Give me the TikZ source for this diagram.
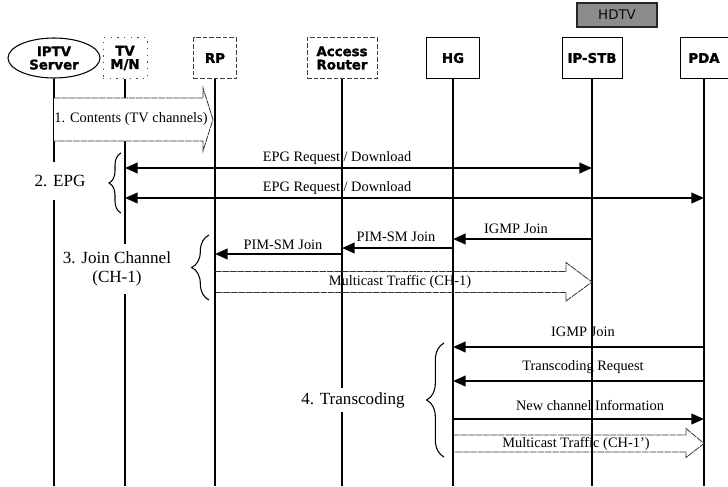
\documentclass[tikz,border=0pt]{standalone}
\usepackage{fontspec}
\setmainfont{Liberation Serif}
\newfontfamily\hdrfont{DejaVu Sans}[BoldFeatures={FakeBold=1.6}]
\newfontfamily\plainsans{DejaVu Sans}
\usetikzlibrary{shapes.geometric,arrows.meta,decorations.pathreplacing,calc}
\definecolor{hdgray}{RGB}{140,140,140}
\definecolor{hdtext}{RGB}{10,10,10}
\begin{document}
\begin{tikzpicture}[x=0.75pt,y=-0.75pt,
  hdr/.style={font=\hdrfont\bfseries\fontsize{10}{10}\selectfont, align=center, inner sep=0pt, minimum height=30.75pt},
  dbox/.style={hdr, draw=black!75, line width=0.5pt, dash pattern=on 3.5pt off 1.5pt},
  tbox/.style={hdr, draw=black!70, line width=0.4pt, dash pattern=on 1pt off 4pt},
  sbox/.style={hdr, draw=black, line width=0.6pt},
  life/.style={line width=1.4pt},
  msg/.style={line width=1.4pt, -{Triangle[length=9.5pt,width=8pt]}},
  msgb/.style={line width=1.4pt, {Triangle[length=9.5pt,width=8pt]}-{Triangle[length=9.5pt,width=8pt]}},
  lbl/.style={font=\fontsize{10.8}{12}\selectfont, inner sep=1pt},
  big/.style={font=\fontsize{12.8}{14.5}\selectfont, align=center, fill=white, inner xsep=2pt},
  hollow/.style={draw=black!80, line width=0.6pt, dash pattern=on 5pt off 0.6pt, line join=miter},
  brc/.style={draw=black, line width=0.8pt, decorate, decoration={brace, amplitude=#1}}
]
\useasboundingbox (0,0) rectangle (728,486);

% headers
\node[hdr, ellipse, draw=black, line width=0.8pt, minimum width=69pt, minimum height=30pt] (iptv) at (54,58) {IPTV\\Server};
\node[tbox, minimum width=33pt] (tv) at (125,58) {TV\\M/N};
\node[dbox, minimum width=32.25pt] (rp) at (215,58) {RP};
\node[dbox, minimum width=52.5pt] (ar) at (342,58) {Access\\Router};
\node[sbox, minimum width=39.75pt] (hg) at (453,58) {HG};
\node[sbox, minimum width=45pt] (stb) at (592,58) {IP-STB};
\node[sbox, minimum width=36pt] (pda) at (704,58) {PDA};
\fill[hdgray, draw=black!85, line width=0.8pt] (577,3) rectangle (657,27);
\node[font=\plainsans\fontsize{10}{10}\selectfont, text=hdtext, inner sep=0pt] (hdtv) at (617,15) {HDTV};

% lifelines
\coordinate (bot) at (0,486);
\foreach \n in {iptv,tv,rp,ar,hg,stb,pda}
  \draw[life] (\n.south) -- (\n |- bot);

% message levels
\coordinate (c1) at (0,119.5);
\coordinate (e1) at (0,168);
\coordinate (e2) at (0,198);
\coordinate (j1) at (0,239);
\coordinate (j2) at (0,248);
\coordinate (j3) at (0,254);
\coordinate (m1) at (0,282);
\coordinate (t1) at (0,347);
\coordinate (t2) at (0,381);
\coordinate (t3) at (0,419);
\coordinate (m2) at (0,443.5);

% 1. Contents
\draw[hollow, fill=white] ($(iptv|-c1)+(0,-21.5)$) -- ($(rp|-c1)+(-12,-21.5)$) -- ($(rp|-c1)+(-12,-31.5)$)
  -- ($(rp|-c1)+(-2,0)$) -- ($(rp|-c1)+(-12,31.5)$) -- ($(rp|-c1)+(-12,21.5)$) -- ($(iptv|-c1)+(0,21.5)$);
\node[lbl] (lc1) at (131,119.5) {1. Contents (TV channels)};

% 2. EPG
\draw[msgb] (tv|-e1) -- (stb|-e1);
\node[lbl] (le1) at (337,158) {EPG Request / Download};
\draw[msgb] (tv|-e2) -- (pda|-e2);
\node[lbl] (le2) at (337,188) {EPG Request / Download};
\draw[brc=9pt] (121,213) -- (121,153);
\node[big, minimum height=28pt] (g2) at (60,181) {2. EPG};

% 3. Join channel
\draw[msg] (stb|-j1) -- (hg|-j1);
\node[lbl] (lj1) at (516,229) {IGMP Join};
\draw[msg] (hg|-j2) -- (ar|-j2);
\node[lbl] (lj2) at (396,237) {PIM-SM Join};
\draw[msg] (ar|-j3) -- (rp|-j3);
\node[lbl] (lj3) at (283,245) {PIM-SM Join};
\draw[hollow] ($(rp|-m1)+(0,-10.5)$) -- ($(stb|-m1)+(-26,-10.5)$) -- ($(stb|-m1)+(-26,-19.5)$)
  -- (stb|-m1) -- ($(stb|-m1)+(-26,19)$) -- ($(stb|-m1)+(-26,10.5)$) -- ($(rp|-m1)+(0,10.5)$);
\node[lbl] (lm1) at (400,282) {Multicast Traffic (CH-1)};
\draw[brc=13pt] (209,300) -- (209,235);
\node[big, minimum height=38pt] (g3) at (117,269) {3. Join Channel\\(CH-1)};

% 4. Transcoding
\draw[msg] (pda|-t1) -- (hg|-t1);
\node[lbl] (lt1) at (583,332) {IGMP Join};
\draw[msg] (pda|-t2) -- (hg|-t2);
\node[lbl] (lt2) at (583,367) {Transcoding Request};
\draw[msg] (hg|-t3) -- (pda|-t3);
\node[lbl] (lt3) at (590,405) {New channel Information};
\draw[hollow] ($(hg|-m2)+(0,-8.5)$) -- ($(pda|-m2)+(-18,-8.5)$) -- ($(pda|-m2)+(-18,-15)$)
  -- (pda|-m2) -- ($(pda|-m2)+(-18,14)$) -- ($(pda|-m2)+(-18,8.5)$) -- ($(hg|-m2)+(0,8.5)$);
\node[lbl] (lm2) at (576,443.5) {Multicast Traffic (CH-1')};
\draw[brc=13pt] (444,457) -- (444,343);
\node[big] (g4) at (353,400) {4. Transcoding};
\end{tikzpicture}
\end{document}
